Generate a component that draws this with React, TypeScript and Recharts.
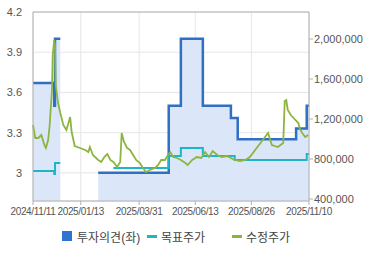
import React from 'react';
import { ComposedChart, Area, Line, XAxis, YAxis, CartesianGrid, ReferenceLine } from 'recharts';

// x = days since 2024/11/11
const tickDays = [0, 63, 140, 214, 288, 364];
const tickLabels = ['2024/11/11', '2025/01/13', '2025/03/31', '2025/06/13', '2025/08/26', '2025/11/10'];

const opinionDays = [0, 28, 29, 36, 37, 86, 179, 195, 224, 261, 270, 347, 361, 364];
const opinionVals = [3.67, 3.5, 4.0, 4.0, null, 3.0, 3.5, 4.0, 3.5, 3.41, 3.25, 3.33, 3.5, 3.5];

const targetDays = [0, 28, 29, 36, 37, 106, 179, 195, 224, 266, 361, 364];
const targetVals = [680000, 650000, 760000, 760000, null, 710000, 830000, 910000, 830000, 790000, 850000, 850000];

const priceDays = [
  0, 3, 7, 11, 15, 17, 20, 22, 25, 26, 28, 29, 30, 33, 36, 40, 44, 46, 49, 51,
  55, 62, 69, 73, 75, 79, 86, 90, 94, 98, 102, 106, 111, 115, 117, 120, 124, 128, 132, 136,
  141, 145, 149, 154, 161, 165, 169, 174, 178, 181, 185, 190, 195, 201, 204, 210, 216, 222, 227, 232,
  237, 243, 249, 256, 261, 266, 273, 280, 286, 293, 299, 305, 310, 315, 323, 330, 332, 334, 336, 340,
  346, 350, 352, 355, 359, 363,
];
const priceVals = [
  1140000, 1010000, 1010000, 1040000, 940000, 910000, 990000, 1140000, 1490000, 1840000, 1990000, 1940000, 1540000, 1360000, 1260000, 1140000, 1090000, 1140000, 1220000, 1070000,
  930000, 910000, 890000, 870000, 920000, 840000, 790000, 770000, 820000, 850000, 790000, 770000, 720000, 770000, 1060000, 970000, 910000, 890000, 840000, 790000,
  760000, 710000, 670000, 690000, 710000, 740000, 790000, 790000, 840000, 870000, 820000, 810000, 790000, 760000, 740000, 790000, 820000, 810000, 870000, 820000,
  880000, 840000, 820000, 830000, 810000, 790000, 780000, 790000, 820000, 890000, 950000, 1010000, 1060000, 940000, 920000, 960000, 1380000, 1390000, 1290000, 1240000,
  1190000, 1160000, 1100000, 1060000, 1020000, 1040000,
];

const leftTicks = [3, 3.3, 3.6, 3.9, 4.2];
const rightTicks = [400000, 800000, 1200000, 1600000, 2000000];

const opinionData = opinionDays.map((d, i) => ({ day: d, opinion: opinionVals[i] }));
const targetData = targetDays.map((d, i) => ({ day: d, target: targetVals[i] }));
const priceData = priceDays.map((d, i) => ({ day: d, price: priceVals[i] }));

const FONT = 'Arial, "Liberation Sans", "Noto Sans CJK KR", sans-serif';
const AXIS = '#b0b0b0';
const tickStyle = { fontSize: 11, fill: '#555', fontFamily: FONT };
const dateTickStyle = { fontSize: 10, fill: '#555', fontFamily: FONT, letterSpacing: -0.35 };

export default function App() {
  return (
    <div style={{ position: 'absolute', left: 0, top: 0, width: 370, height: 255, background: '#fff', fontFamily: FONT }}>
      <ComposedChart width={370} height={228} margin={{ top: 12, right: 0, bottom: 3, left: 0 }}>
        <CartesianGrid stroke="#e6e6e6" vertical={true} horizontal={true} yAxisId="left" />
        <XAxis
          dataKey="day"
          type="number"
          domain={[0, 364]}
          ticks={tickDays}
          tickFormatter={(v: number) => tickLabels[tickDays.indexOf(v)]}
          tick={dateTickStyle}
          stroke={AXIS}
          tickSize={4}
          tickMargin={3}
          height={24}
          allowDuplicatedCategory={false}
          interval={0}
        />
        <YAxis
          yAxisId="left"
          domain={[2.79, 4.2]}
          ticks={leftTicks}
          tick={tickStyle}
          stroke={AXIS}
          tickLine={false}
          tickMargin={5}
          width={33}
          interval={0}
        />
        <YAxis
          yAxisId="right"
          orientation="right"
          domain={[380000, 2270000]}
          ticks={rightTicks}
          tickFormatter={(v: number) => v.toLocaleString('en-US')}
          tick={tickStyle}
          stroke={AXIS}
          tickSize={4}
          tickMargin={1}
          width={61}
          interval={0}
        />
        <ReferenceLine yAxisId="left" y={4.2} stroke={AXIS} />
        <Area
          data={opinionData}
          yAxisId="left"
          dataKey="opinion"
          type="stepAfter"
          stroke="#2f6fc4"
          strokeWidth={2.5}
          fill="#dbe7f8"
          fillOpacity={1}
          isAnimationActive={false}
          dot={false}
          activeDot={false}
        />
        <Line
          data={targetData}
          yAxisId="right"
          dataKey="target"
          type="stepAfter"
          stroke="#1fb5c8"
          strokeWidth={2}
          dot={false}
          activeDot={false}
          isAnimationActive={false}
        />
        <Line
          data={priceData}
          yAxisId="right"
          dataKey="price"
          type="linear"
          stroke="#8cb53f"
          strokeWidth={1.8}
          dot={false}
          activeDot={false}
          isAnimationActive={false}
        />
      </ComposedChart>
      <div style={{ position: 'absolute', left: 62, top: 231, width: 10, height: 10, background: '#2d73d2' }} />
      <div style={{ position: 'absolute', left: 77, top: 228, fontSize: 12, color: '#444' }}>투자의견(좌)</div>
      <div style={{ position: 'absolute', left: 147, top: 235, width: 10, height: 3, background: '#1fb5c8' }} />
      <div style={{ position: 'absolute', left: 161, top: 228, fontSize: 12, color: '#444' }}>목표주가</div>
      <div style={{ position: 'absolute', left: 232, top: 235, width: 10, height: 3, background: '#8cb53f' }} />
      <div style={{ position: 'absolute', left: 246, top: 228, fontSize: 12, color: '#444' }}>수정주가</div>
    </div>
  );
}
